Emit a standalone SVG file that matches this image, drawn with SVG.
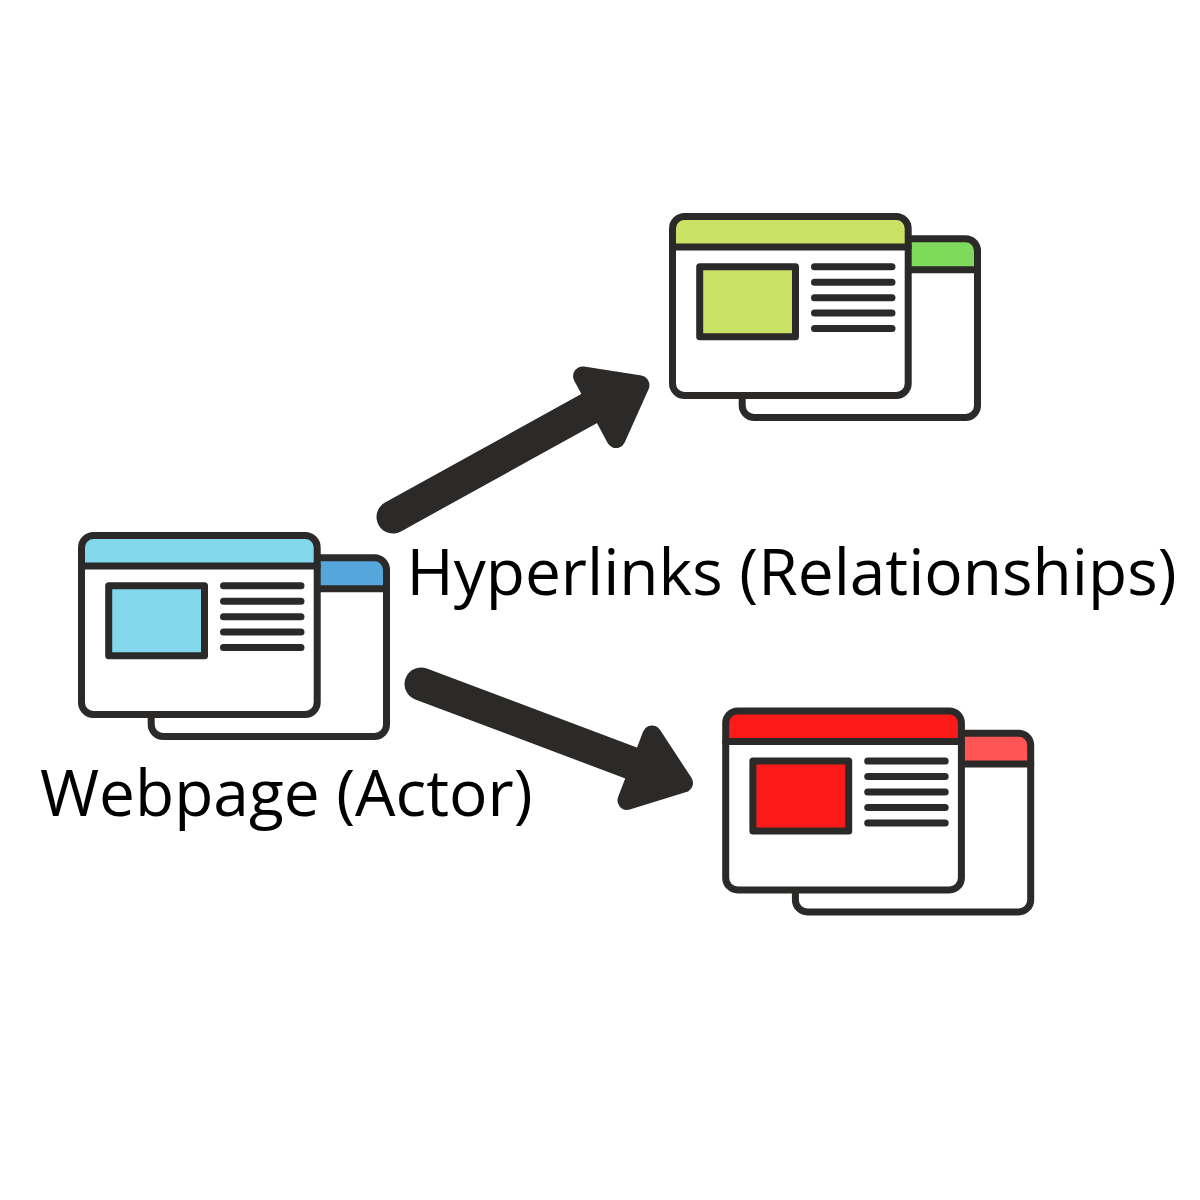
<svg xmlns="http://www.w3.org/2000/svg" width="1200" height="1200" viewBox="0 0 1200 1200">
<style>
.s{stroke:#2b2a29;stroke-width:7;fill:none;stroke-linecap:round;stroke-linejoin:round}
.w{fill:#fff}
.h{fill:#2b2a29;stroke:#2b2a29;stroke-width:19;stroke-linejoin:round}
.sh{stroke:#2b2a29;stroke-width:33;stroke-linecap:round;fill:none}
text{font-family:"Open Sans",sans-serif;font-size:64px;fill:#000}
</style>
<defs>
<clipPath id="backHead"><path d="M151.200 589V569.800a12 12 0 0 1 12-12H374.500a12 12 0 0 1 12 12V589Z"/></clipPath>
<clipPath id="mainHead"><path d="M81.500 566V547.500a12 12 0 0 1 12-12H305.200a12 12 0 0 1 12 12V566Z"/></clipPath>
<g id="backBody">
<rect x="151.200" y="557.800" width="235.300" height="178.700" rx="12" class="w"/>
</g>
<g id="backLine">
<rect x="151.200" y="557.800" width="235.300" height="178.700" rx="12" class="s"/>
<path d="M151.200 588.700H386.500" class="s"/>
</g>
<g id="mainBody">
<rect x="81.500" y="535.500" width="235.700" height="179" rx="12" class="w"/>
</g>
<g id="mainLine">
<rect x="81.500" y="535.500" width="235.700" height="179" rx="12" class="s"/>
<path d="M81.500 566H317.200" class="s"/>
<path d="M223.500 585.700H301M223.500 601.200H301M223.500 616.700H301M223.500 632H301M223.500 647.500H301" class="s"/>
</g>
</defs>
<g id="connectors">
<g id="arrow-top"><path d="M393 517L610 397" class="sh"/><path d="M582.500 376L640 385L616 438.500Z" class="h"/></g>
<g id="arrow-bottom"><path d="M421 684L655 772" class="sh"/><path d="M652 735L683.500 783L627 800.500Z" class="h"/></g>
</g>
<g id="node-actor">
<use href="#backBody"/><rect x="151" y="557.500" width="236" height="31.500" fill="#55a6da" clip-path="url(#backHead)"/><use href="#backLine"/>
<use href="#mainBody"/><rect x="81.300" y="535.500" width="236.200" height="31" fill="#83d7ec" clip-path="url(#mainHead)"/>
<rect x="108.700" y="585.700" width="95.800" height="70" class="s" style="fill:#83d7ec"/><use href="#mainLine"/>
</g>
<g id="node-green" transform="translate(591 -319)">
<use href="#backBody"/><rect x="151" y="557.500" width="236" height="31.500" fill="#7fd95a" clip-path="url(#backHead)"/><use href="#backLine"/>
<use href="#mainBody"/><rect x="81.300" y="535.500" width="236.200" height="31" fill="#cae264" clip-path="url(#mainHead)"/>
<rect x="108.700" y="585.700" width="95.800" height="70" class="s" style="fill:#cae264"/><use href="#mainLine"/>
</g>
<g id="node-red" transform="translate(644.200 175.400)">
<use href="#backBody"/><rect x="151" y="557.500" width="236" height="31.500" fill="#ff5555" clip-path="url(#backHead)"/><use href="#backLine"/>
<use href="#mainBody"/><rect x="81.300" y="535.500" width="236.200" height="31" fill="#ff1a1a" clip-path="url(#mainHead)"/>
<rect x="108.700" y="585.700" width="95.800" height="70" class="s" style="fill:#ff1a1a"/><use href="#mainLine"/>
</g>
<text id="label-relationships" x="406.500" y="595">Hyperlinks (Relationships)</text>
<text id="label-actor" x="40" y="816">Webpage (Actor)</text>
</svg>
